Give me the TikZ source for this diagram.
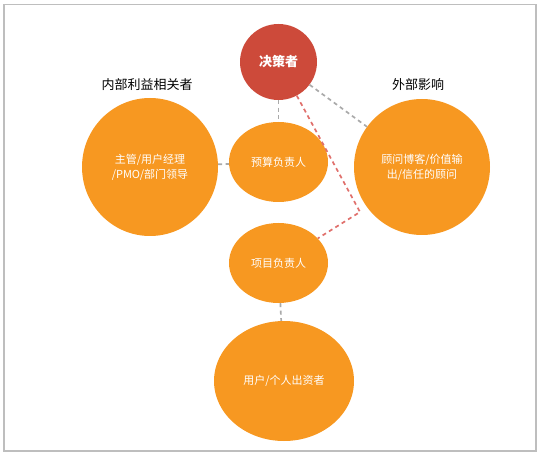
\documentclass[tikz,border=0pt]{standalone}
\usepackage{fontspec}
\setmainfont{Noto Sans CJK SC}
\usetikzlibrary{shapes.geometric}
\definecolor{SHOrange}{RGB}{247,152,33}
\definecolor{SHRed}{RGB}{205,74,58}
\definecolor{SHLine}{RGB}{170,170,170}
\definecolor{SHRedLine}{RGB}{224,112,108}
\definecolor{SHFrame}{RGB}{190,190,190}

\begin{document}
\begin{tikzpicture}[x=1pt, y=-1pt,
          bub/.style={ellipse, fill=SHOrange, inner sep=0pt, align=center,
                      text=white, font=\fontsize{11}{15}\selectfont},
          ttl/.style={font=\fontsize{13}{15}\selectfont, text=black},
          glink/.style={draw=SHLine, line width=1.7pt, dash pattern=on 4pt off 3.5pt},
          rlink/.style={draw=SHRedLine, line width=1.7pt, dash pattern=on 4pt off 3.5pt}
        ]
        \useasboundingbox (0,0) rectangle (541,457);
        % Frame
        \draw[SHFrame, line width=1.5pt] (4,4.5) rectangle (536,451);

        % Decision maker
        \node[ellipse, fill=SHRed, minimum width=77pt, minimum height=76pt,
              inner sep=0pt, text=white, font=\fontsize{13}{15}\selectfont\bfseries]
              (dec) at (278.5,62) {决策者};

        % Circles
        \node[bub, minimum width=136pt, minimum height=138pt] (inner) at (150,167)
              {主管/用户经理\\/PMO/部门领导};
        \node[bub, minimum width=99pt, minimum height=80pt] (budget) at (278.5,162)
              {预算负责人};
        \node[bub, minimum width=136pt, minimum height=136pt] (outer) at (422,167)
              {顾问博客/价值输\\出/信任的顾问};
        \node[bub, minimum width=99pt, minimum height=80pt] (proj) at (278.5,263)
              {项目负责人};
        \node[bub, minimum width=140pt, minimum height=120pt] (user) at (284,381)
              {用户/个人出资者};

        % Group titles
        \node[ttl] (innerttl) at (147,85) {内部利益相关者};
        \node[ttl] (outerttl) at (418,85) {外部影响};

        % Links
        \coordinate (bend) at (360,212);
        \draw[glink] (dec) -- (budget);
        \draw[glink] (inner) -- (budget);
        \draw[glink] (dec) -- (outer);
        \draw[glink] (proj) -- (user);
        \draw[rlink] (dec) -- (bend) -- (proj);
      \end{tikzpicture}
\end{document}
